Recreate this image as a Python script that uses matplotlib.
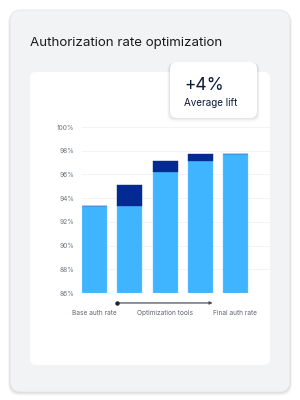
import matplotlib
matplotlib.use("Agg")
import matplotlib.pyplot as plt
from matplotlib.patches import FancyBboxPatch
import matplotlib.transforms as mtransforms

# ---- data ----
categories = ["Base auth rate", "", "Optimization tools", "", "Final auth rate"]
base_values = [93.3, 93.3, 96.2, 97.1, 97.7]
lift_values = [0.0, 1.8, 0.9, 0.6, 0.0]
y_ticks = [86, 88, 90, 92, 94, 96, 98, 100]
y_tick_labels = [f"{t}%" for t in y_ticks]
title = "Authorization rate optimization"
callout_value = "+4%"
callout_label = "Average lift"

LIGHT = "#3FB4FF"
DARK = "#022A92"
FONT = ["Inter", "DejaVu Sans"]
plt.rcParams["font.family"] = FONT

W, H = 300, 400
fig = plt.figure(figsize=(3, 4), dpi=100)
fig.patch.set_facecolor("white")

# background axes in pixel coordinates (y downwards)
bg = fig.add_axes([0, 0, 1, 1])
bg.set_xlim(0, W)
bg.set_ylim(H, 0)
bg.axis("off")

def rbox(ax, x0, y0, x1, y1, r, fc, ec="none", alpha=1.0, z=1, lw=0):
    p = FancyBboxPatch((x0 + r, y0 + r), (x1 - x0) - 2 * r, (y1 - y0) - 2 * r,
                       boxstyle=f"round,pad={r}", fc=fc, ec=ec, lw=lw,
                       alpha=alpha, zorder=z, mutation_aspect=1)
    ax.add_patch(p)

# outer card shadow
for i, a in enumerate([0.05, 0.04, 0.03, 0.02]):
    d = i + 1
    rbox(bg, 10 - d * 0.5, 10 + d * 0.6, 290 + d * 0.5, 392 + d * 1.0, 11, "#000000", alpha=a, z=0)
rbox(bg, 10, 10, 290, 392, 11, "#F2F3F5", ec="#E6E7EA", lw=0.6, z=1)

bg.text(30, 43, title, fontsize=9.6, color="#1A1A1A", va="center", ha="left", zorder=3)

# inner white card
rbox(bg, 30, 72, 270, 365, 6, "white", z=2)

# callout shadow + box
for i, a in enumerate([0.05, 0.035, 0.02]):
    d = i + 1
    rbox(bg, 170 - d, 62 + d * 0.3, 257 + d, 118 + d * 1.3, 7, "#000000", alpha=a, z=3)
rbox(bg, 170, 62, 257, 118, 7, "white", z=4)
bg.text(184, 85.5, callout_value, fontsize=12.5, color="#0B1A3A", va="center", ha="left", zorder=5)
bg.text(184, 103, callout_label, fontsize=7.1, color="#0B1A3A", va="center", ha="left", zorder=5)

# chart axes
ax_l, ax_r, ax_t, ax_b = 82, 270, 127, 293
ax = fig.add_axes([ax_l / W, 1 - ax_b / H, (ax_r - ax_l) / W, (ax_b - ax_t) / H])
ax.set_facecolor("none")
ax.set_zorder(5)

x = list(range(len(base_values)))
bw = 0.712
ax.bar(x, [b - 86 for b in base_values], bottom=86, width=bw, color=LIGHT,
       edgecolor="#7CCBFF", linewidth=0.3, zorder=3)
ax.bar(x, lift_values, bottom=base_values, width=bw, color=DARK,
       edgecolor=DARK, linewidth=0.3, zorder=3)

ax.set_ylim(86, 100)
ax.set_xlim(-0.365, 4.99)
ax.set_yticks(y_ticks)
ax.set_yticklabels(y_tick_labels, fontsize=4.8, color="#6B7280")
ax.tick_params(axis="y", length=0, pad=5.5)
ax.set_xticks([])
for s in ax.spines.values():
    s.set_visible(False)
ax.grid(axis="y", color="#F0F1F3", linewidth=0.6, zorder=0)
ax.set_axisbelow(True)

# category labels
trans = mtransforms.blended_transform_factory(ax.transData, ax.transAxes)
for i, c in enumerate(categories):
    if c:
        ax.text(i, -0.119, c, transform=trans, ha="center", va="center",
                fontsize=4.7, color="#5F6470", clip_on=False)

# bracket for optimization tools
yb = -0.060
ax.annotate("", xy=(3 + bw / 2, yb), xytext=(1 - bw / 2, yb), xycoords=trans,
            textcoords=trans,
            arrowprops=dict(arrowstyle="-|>", color="#4B5060", lw=0.9,
                            mutation_scale=4, shrinkA=0, shrinkB=0),
            annotation_clip=False)
ax.plot([1 - bw / 2], [yb], marker="o", markersize=2.2, color="#1F2433",
        transform=trans, clip_on=False, zorder=6)

fig.savefig("out.png", dpi=100, facecolor="white")
